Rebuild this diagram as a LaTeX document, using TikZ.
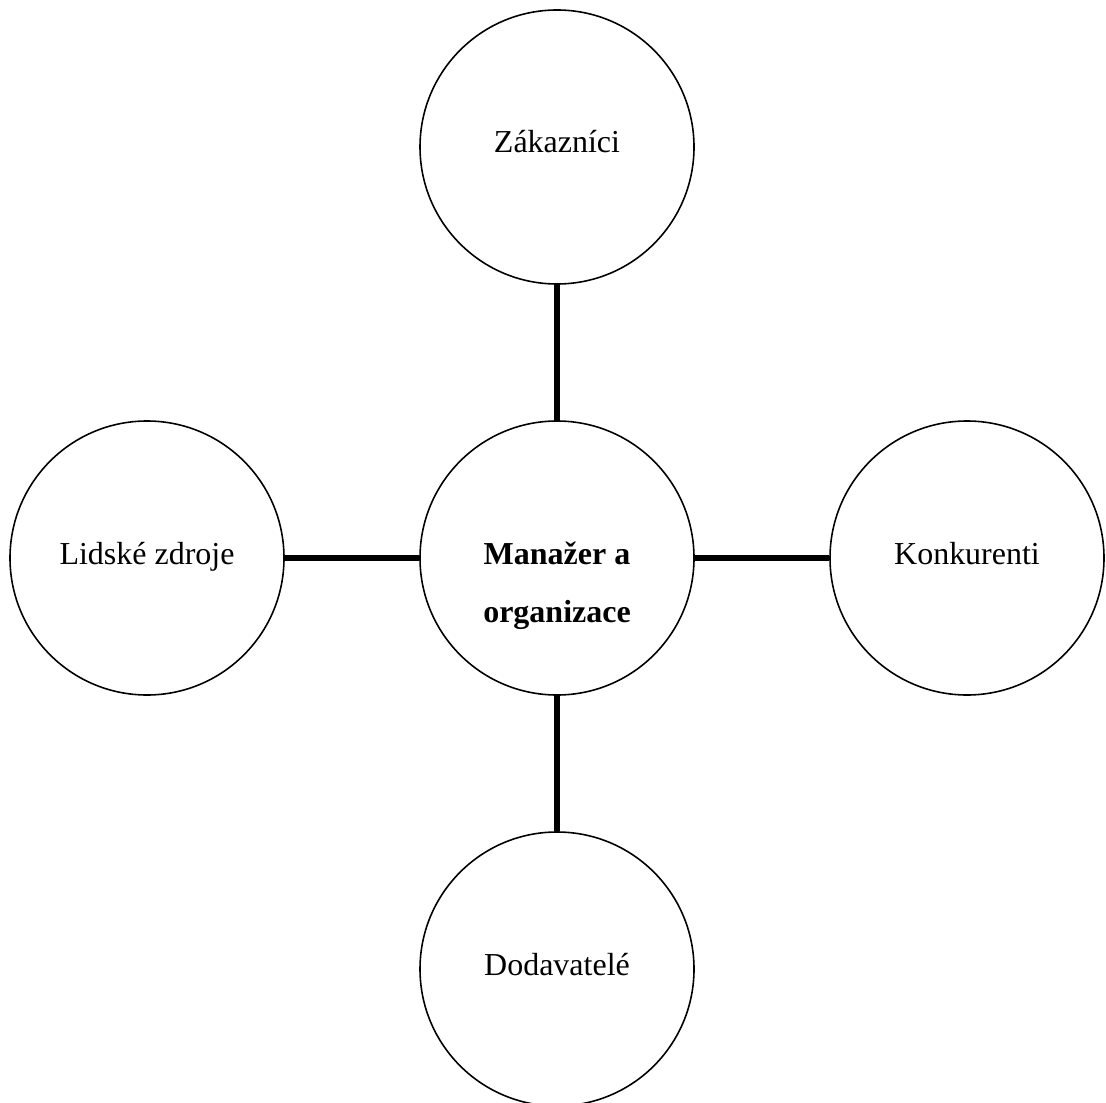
\documentclass[tikz,border=0pt]{standalone}
\usepackage{fontspec}
\setmainfont{Liberation Serif}
\begin{document}
\begin{tikzpicture}[
	kruh/.style={draw=black, line width=0.45pt, circle, minimum size=2.74cm, inner sep=0pt, text height=0.12cm, text depth=0cm, font=\fontsize{9.1}{16.3}\selectfont},
	spoj/.style={draw=black, line width=1.5pt}
]

	\useasboundingbox (0,0) rectangle (11.06,11.02);

	% stred
	\node[kruh, align=center, text height=1.28cm, text depth=0cm, font=\fontsize{9.1}{16.3}\selectfont\bfseries] (manazer) at (5.57,5.44) {Manažer a\\organizace};

	% okoli
	\node[kruh] (zakaznici) at (5.57,9.55) {Zákazníci};
	\node[kruh] (zdroje) at (1.47,5.44) {Lidské zdroje};
	\node[kruh] (konkurenti) at (9.67,5.44) {Konkurenti};
	\node[kruh] (dodavatele) at (5.57,1.33) {Dodavatelé};

	\draw[spoj] (zakaznici) -- (manazer);
	\draw[spoj] (zdroje) -- (manazer);
	\draw[spoj] (manazer) -- (konkurenti);
	\draw[spoj] (manazer) -- (dodavatele);

\end{tikzpicture}
\end{document}
